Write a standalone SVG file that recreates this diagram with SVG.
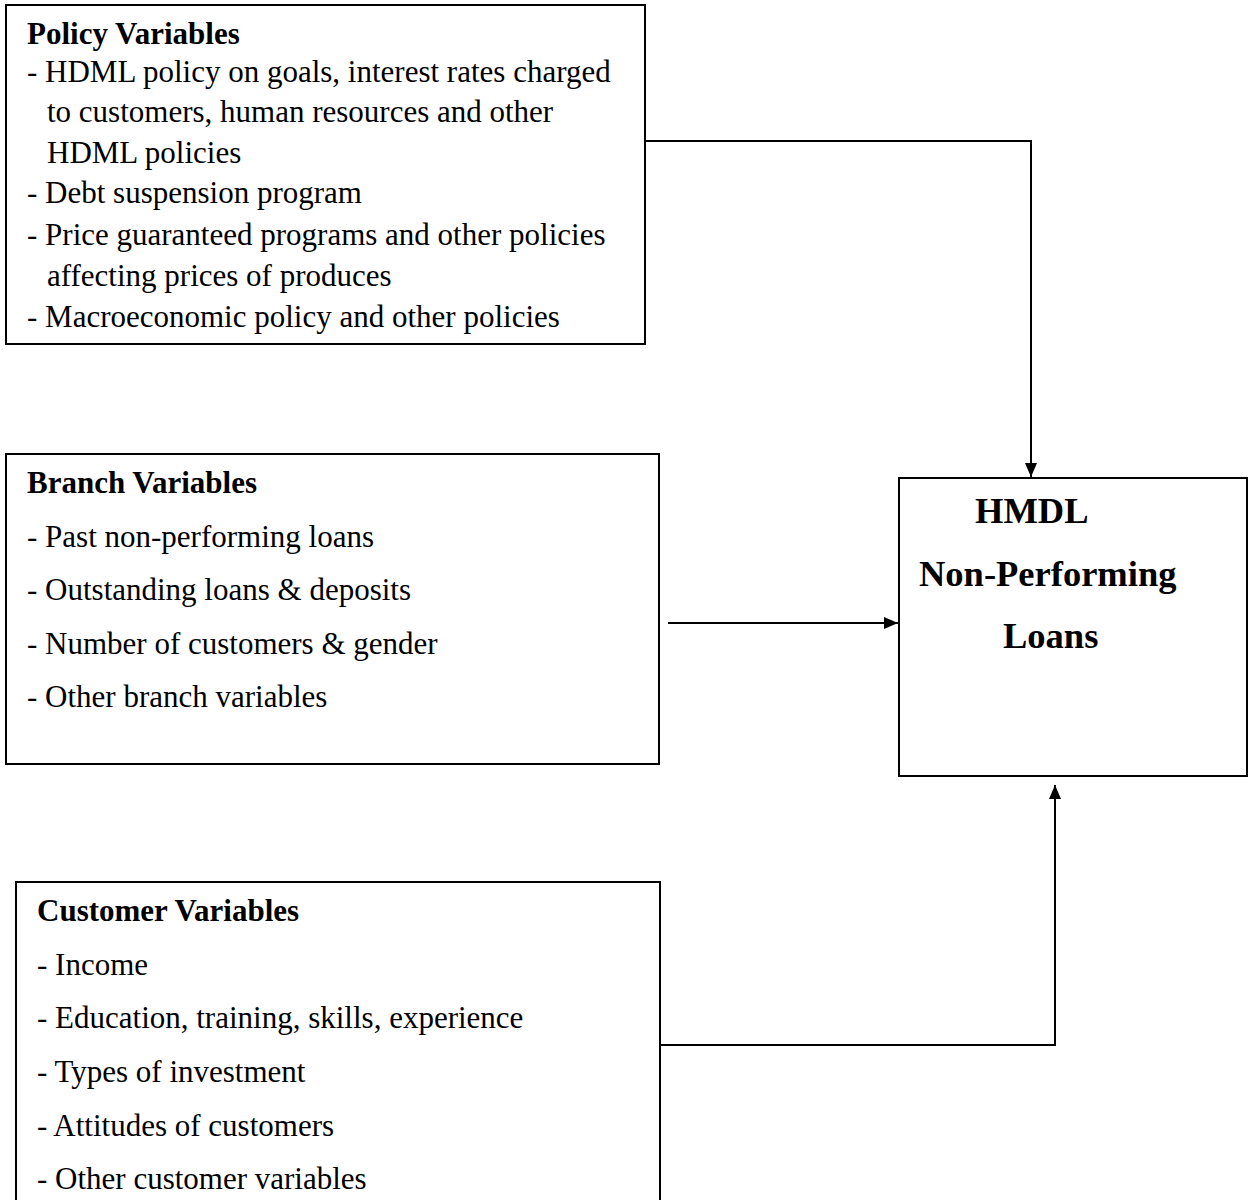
<svg xmlns="http://www.w3.org/2000/svg" width="1253" height="1200" viewBox="0 0 1253 1200">
<style>
.box{fill:#fff;stroke:#000;stroke-width:2}
.t{font-family:"Liberation Serif","Times New Roman",serif;font-size:31px;fill:#000}
.b{font-weight:bold}
.h{font-family:"Liberation Serif","Times New Roman",serif;font-size:36.5px;font-weight:bold;fill:#000}
.c{fill:none;stroke:#000;stroke-width:2}
</style>
<defs>
<marker id="ah" markerWidth="14" markerHeight="12" refX="14" refY="6" orient="auto" markerUnits="userSpaceOnUse" viewBox="0 0 14 12">
<path d="M0,0 L14,6 L0,12 z" fill="#000"/>
</marker>
</defs>
<g id="policy">
<rect class="box" x="6" y="5" width="639" height="339"/>
<text class="t b" x="27" y="44">Policy Variables</text>
<text class="t" x="27" y="82">- HDML policy on goals, interest rates charged</text>
<text class="t" x="47" y="122">to customers, human resources and other</text>
<text class="t" x="47" y="163">HDML policies</text>
<text class="t" x="27" y="203">- Debt suspension program</text>
<text class="t" x="27" y="245">- Price guaranteed programs and other policies</text>
<text class="t" x="47" y="286">affecting prices of produces</text>
<text class="t" x="27" y="327">- Macroeconomic policy and other policies</text>
</g>
<g id="branch">
<rect class="box" x="6" y="454" width="653" height="310"/>
<text class="t b" x="27" y="493">Branch Variables</text>
<text class="t" x="27" y="547">- Past non-performing loans</text>
<text class="t" x="27" y="600">- Outstanding loans &amp; deposits</text>
<text class="t" x="27" y="654">- Number of customers &amp; gender</text>
<text class="t" x="27" y="707">- Other branch variables</text>
</g>
<g id="customer">
<rect class="box" x="16" y="882" width="644" height="330"/>
<text class="t b" x="37" y="921">Customer Variables</text>
<text class="t" x="37" y="975">- Income</text>
<text class="t" x="37" y="1028">- Education, training, skills, experience</text>
<text class="t" x="37" y="1082">- Types of investment</text>
<text class="t" x="37" y="1136">- Attitudes of customers</text>
<text class="t" x="37" y="1189">- Other customer variables</text>
</g>
<g id="npl">
<rect class="box" x="899" y="478" width="348" height="298"/>
<text class="h" x="975" y="523">HMDL</text>
<text class="h" x="919" y="586">Non-Performing</text>
<text class="h" x="1003" y="648">Loans</text>
</g>
<g id="connectors">
<path class="c" d="M645,141 H1031 V477" marker-end="url(#ah)"/>
<path class="c" d="M668,623 H898" marker-end="url(#ah)"/>
<path class="c" d="M660,1045 H1055 V785" marker-end="url(#ah)"/>
</g>
</svg>
